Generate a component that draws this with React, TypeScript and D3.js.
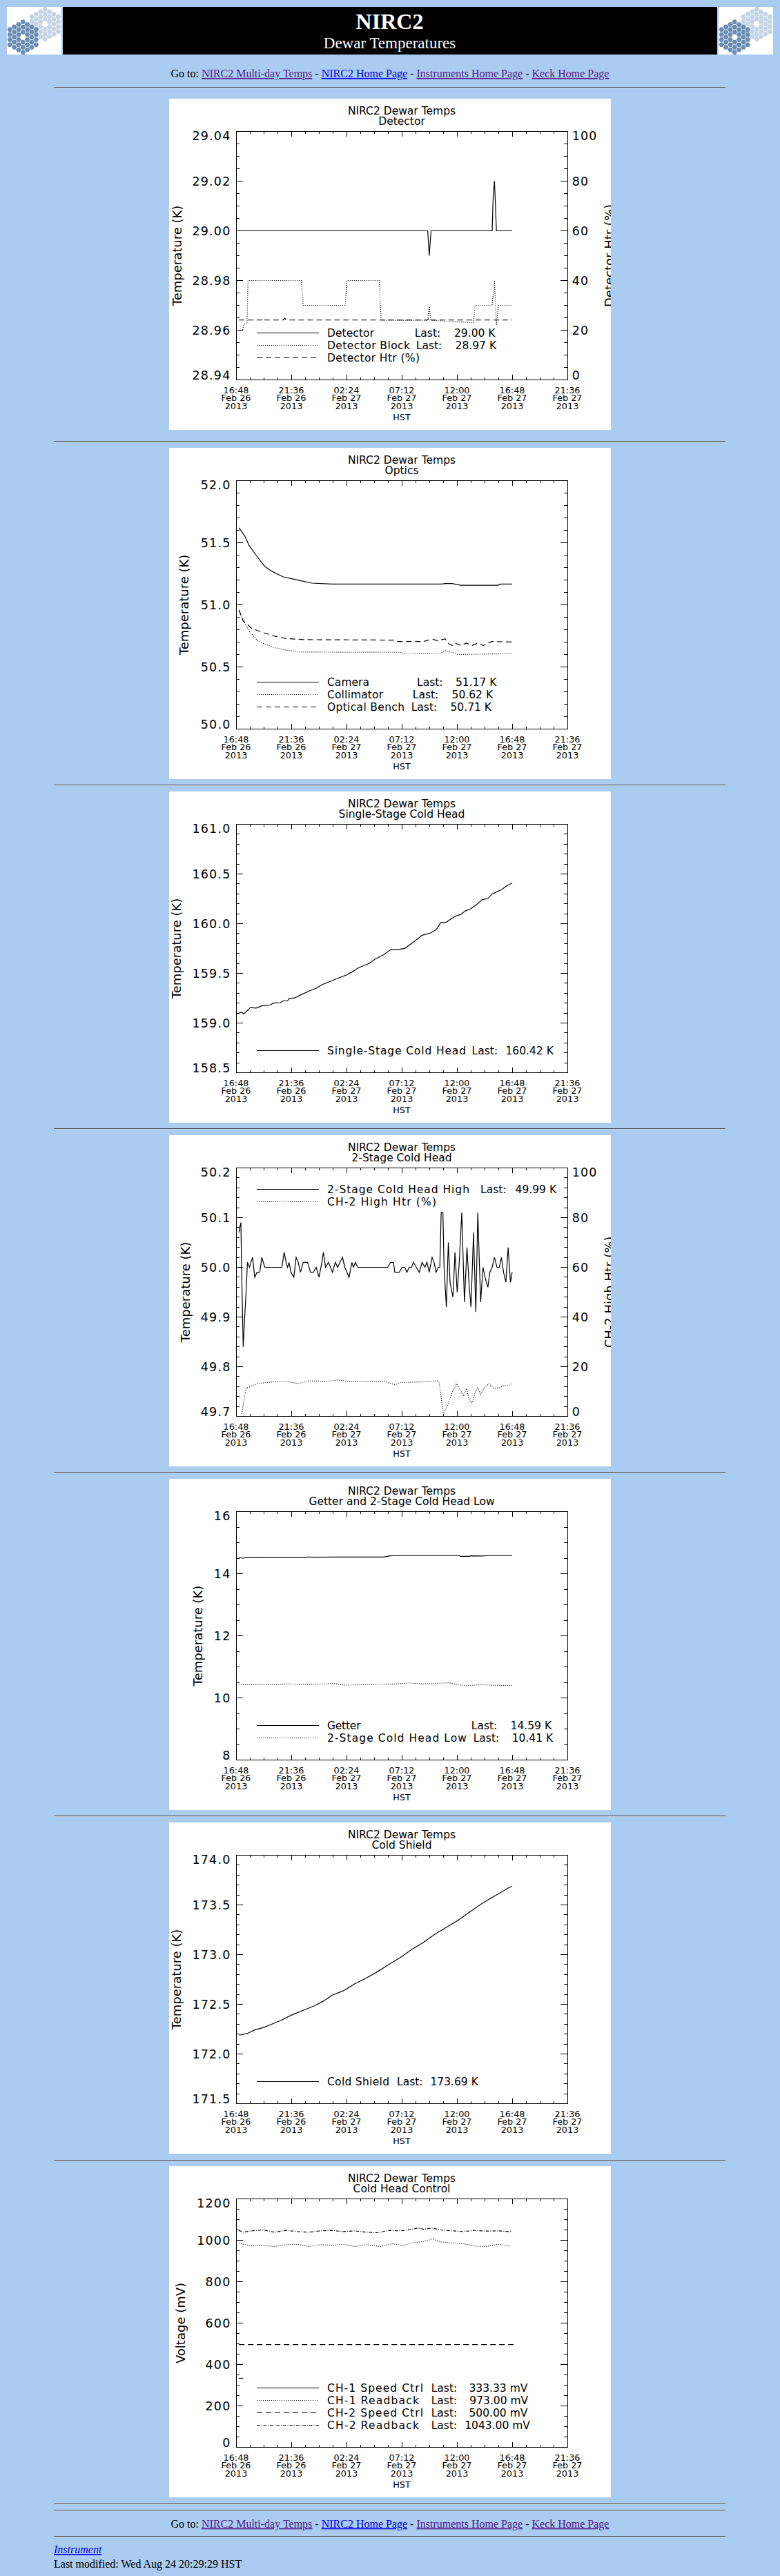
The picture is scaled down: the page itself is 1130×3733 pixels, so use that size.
import * as d3 from 'd3'

const PAGE_W = 1130
const PAGE_H = 3733
const BG = '#a9ccf0'
const PLOT_FONT = '"DejaVu Sans", "Liberation Sans", sans-serif'
const PAGE_FONT = '"Liberation Serif", "Times New Roman", serif'

// x axis: hours after 16:48 HST, Feb 26 2013
const TIME_LABELS = ['16:48', '21:36', '02:24', '07:12', '12:00', '16:48', '21:36']
const DATE_LABELS = ['Feb 26', 'Feb 26', 'Feb 27', 'Feb 27', 'Feb 27', 'Feb 27', 'Feb 27']
const YEAR_LABEL = '2013'
const TICK_HOURS = 4.8

type Pt = [number, number]

// --- Detector
const detectorTicks = [28.94, 28.96, 28.98, 29.0, 29.02, 29.04]
const htrTicks = [0, 20, 40, 60, 80, 100]
const detectorTemp: Pt[] = [
  [0.25, 29.0], [16.66, 29.0], [16.79, 28.99], [16.95, 29.0], [22.26, 29.0],
  [22.35, 29.014], [22.46, 29.02], [22.55, 29.01], [22.63, 29.0], [24.0, 29.0]
]
const detectorBlock: Pt[] = [
  [0.25, 28.96], [0.57, 28.96], [0.67, 28.9625], [0.95, 28.9625], [1.04, 28.98], [5.67, 28.98],
  [5.84, 28.97], [9.5, 28.97], [9.62, 28.98], [12.44, 28.98], [12.61, 28.964], [16.66, 28.964],
  [16.79, 28.97], [16.91, 28.964], [20.64, 28.963], [20.77, 28.97], [22.26, 28.97], [22.46, 28.98],
  [22.63, 28.962], [22.81, 28.97], [24.0, 28.97]
]
const detectorHtr: Pt[] = [
  [0.25, 24.1], [2.24, 24.1], [2.36, 24.8], [2.49, 24.1], [4.1, 24.1], [4.23, 24.8], [4.35, 24.1],
  [16.66, 24.1], [16.79, 25.0], [16.91, 24.1], [24.0, 24.1]
]

// --- Optics
const opticsTicks = [50.0, 50.5, 51.0, 51.5, 52.0]
const cameraTemp: Pt[] = [
  [0.25, 51.62], [0.75, 51.555], [1.12, 51.48], [1.74, 51.4], [2.49, 51.31], [3.11, 51.27],
  [4.1, 51.225], [4.85, 51.21], [5.84, 51.19], [6.59, 51.175], [8.33, 51.167], [11.32, 51.167],
  [17.91, 51.167], [18.16, 51.172], [18.78, 51.172], [19.52, 51.158], [22.76, 51.158],
  [23.01, 51.167], [24.0, 51.167]
]
const collimatorTemp: Pt[] = [
  [0.25, 50.95], [0.62, 50.88], [1.12, 50.79], [1.87, 50.71], [2.61, 50.68], [3.36, 50.655],
  [4.35, 50.636], [5.6, 50.62], [14.3, 50.618], [14.55, 50.607], [17.66, 50.607], [18.16, 50.63],
  [18.78, 50.618], [19.27, 50.6], [24.0, 50.607]
]
const benchTemp: Pt[] = [
  [0.25, 50.96], [0.62, 50.87], [1.37, 50.81], [2.36, 50.776], [3.36, 50.748], [4.35, 50.729],
  [5.84, 50.72], [13.8, 50.716], [14.05, 50.705], [16.29, 50.705], [17.04, 50.724], [17.53, 50.711],
  [18.16, 50.726], [18.53, 50.683], [18.78, 50.673], [19.03, 50.692], [19.52, 50.673], [20.02, 50.692],
  [20.52, 50.673], [21.01, 50.692], [21.51, 50.673], [22.01, 50.698], [22.26, 50.705], [24.0, 50.701]
]

// --- Single-stage cold head
const singleTicks = [158.5, 159.0, 159.5, 160.0, 160.5, 161.0]
const singleStage: Pt[] = [
  [0.25, 159.101], [0.5, 159.108], [0.67, 159.09], [1.24, 159.155], [1.74, 159.15], [2.24, 159.173],
  [2.98, 159.182], [3.23, 159.2], [3.85, 159.205], [4.1, 159.224], [4.48, 159.224], [4.6, 159.247],
  [5.1, 159.252], [5.6, 159.282], [6.34, 159.321], [6.96, 159.351], [7.46, 159.386], [8.21, 159.42],
  [8.95, 159.455], [9.58, 159.483], [10.07, 159.513], [10.69, 159.559], [11.56, 159.599],
  [12.06, 159.64], [12.81, 159.686], [13.43, 159.737], [13.93, 159.737], [14.67, 159.751],
  [15.54, 159.825], [16.17, 159.883], [16.91, 159.906], [17.41, 159.941], [17.78, 160.01],
  [18.28, 160.015], [18.65, 160.045], [19.15, 160.08], [19.52, 160.091], [19.9, 160.126],
  [20.39, 160.149], [20.89, 160.191], [21.39, 160.241], [21.89, 160.253], [22.26, 160.299],
  [23.13, 160.346], [23.5, 160.38], [24.0, 160.408]
]

// --- 2-stage cold head
const twoStageTicks = [49.7, 49.8, 49.9, 50.0, 50.1, 50.2]
const twoStageHigh: Pt[] = [
  [0.25, 50.07], [0.32, 50.08], [0.42, 50.09], [0.47, 50.01], [0.62, 49.84], [0.75, 49.9],
  [0.87, 49.95], [0.99, 50.01], [1.17, 50.0], [1.29, 50.01], [1.44, 50.02], [1.62, 49.98],
  [1.82, 49.99], [2.06, 49.99], [2.24, 50.02], [2.49, 50.0], [3.98, 50.0], [4.18, 50.03],
  [4.35, 50.01], [4.48, 50.0], [4.6, 50.01], [4.78, 49.99], [5.02, 49.98], [5.22, 50.02],
  [5.4, 50.01], [5.6, 49.99], [5.84, 50.01], [6.22, 50.01], [6.47, 49.99], [6.72, 49.99],
  [6.96, 50.0], [7.21, 49.98], [7.46, 50.01], [7.59, 50.03], [7.78, 50.0], [8.03, 50.01],
  [8.21, 50.0], [8.38, 49.99], [8.63, 50.01], [8.83, 50.0], [9.03, 50.01], [9.25, 50.02],
  [9.45, 50.0], [9.82, 49.98], [10.07, 50.01], [10.2, 50.0], [10.37, 50.01], [10.57, 50.0],
  [13.18, 50.0], [13.43, 50.01], [13.68, 50.01], [13.8, 49.99], [14.18, 49.99], [14.43, 50.0],
  [14.67, 50.0], [14.85, 49.99], [15.05, 50.0], [15.25, 50.0], [15.42, 50.01], [15.67, 50.0],
  [15.92, 49.99], [16.17, 50.01], [16.41, 50.0], [16.59, 50.01], [16.79, 49.99], [17.04, 50.02],
  [17.21, 50.01], [17.38, 49.99], [17.58, 50.0], [17.71, 50.0], [17.83, 50.11], [17.98, 50.11],
  [18.08, 50.0], [18.28, 49.92], [18.45, 50.05], [18.6, 49.97], [18.85, 49.94], [19.03, 50.03],
  [19.22, 49.95], [19.4, 50.01], [19.62, 50.11], [19.85, 49.93], [20.07, 50.04], [20.27, 49.96],
  [20.42, 49.92], [20.64, 50.07], [20.84, 49.91], [21.01, 50.11], [21.26, 49.93], [21.46, 50.0],
  [21.64, 49.98], [21.89, 49.96], [22.06, 49.99], [22.26, 50.0], [22.46, 50.02], [22.68, 50.0],
  [22.88, 50.0], [23.06, 50.02], [23.25, 49.99], [23.45, 49.97], [23.65, 50.04], [23.85, 49.97],
  [24.0, 49.99]
]
const ch2HighHtr: Pt[] = [
  [0.5, 1.1], [0.87, 11.3], [1.12, 11.8], [1.37, 12.3], [1.87, 13.2], [2.61, 13.6], [3.36, 13.9],
  [4.35, 14.1], [5.35, 13.2], [6.34, 14.3], [7.83, 14.1], [8.83, 14.6], [10.07, 13.9], [11.32, 13.9],
  [13.06, 13.9], [13.8, 12.7], [14.3, 13.6], [16.29, 13.9], [17.53, 14.3], [17.66, 13.6],
  [17.78, 9.5], [18.03, 0.6], [18.4, 4.8], [18.78, 9.5], [19.15, 13.2], [19.52, 10.4], [19.77, 8.1],
  [20.02, 11.3], [20.27, 6.7], [20.52, 5.3], [20.77, 9.5], [21.01, 11.8], [21.26, 8.5],
  [21.51, 11.3], [21.76, 12.3], [22.01, 13.2], [22.38, 11.3], [22.88, 11.5], [23.25, 12.3],
  [23.63, 12.3], [24.0, 13.2]
]

// --- Getter and 2-stage cold head low
const getterTicks = [8, 10, 12, 14, 16]
const getterTemp: Pt[] = [
  [0.25, 14.52], [0.62, 14.5], [0.87, 14.52], [6.1, 14.523], [6.22, 14.538], [6.84, 14.53],
  [8.83, 14.538], [12.81, 14.538], [13.31, 14.568], [13.68, 14.583], [19.4, 14.583], [19.52, 14.56],
  [20.27, 14.56], [20.39, 14.575], [21.39, 14.568], [21.89, 14.583], [24.0, 14.583]
]
const twoStageLow: Pt[] = [
  [0.25, 10.427], [3.36, 10.427], [4.35, 10.449], [6.34, 10.434], [8.58, 10.464], [9.33, 10.412],
  [11.32, 10.427], [13.8, 10.449], [15.05, 10.479], [16.29, 10.449], [18.53, 10.486], [19.27, 10.427],
  [20.02, 10.39], [21.26, 10.427], [22.51, 10.404], [24.0, 10.404]
]

// --- Cold shield
const shieldTicks = [171.5, 172.0, 172.5, 173.0, 173.5, 174.0]
const coldShield: Pt[] = [
  [0.25, 172.189], [0.99, 172.207], [1.62, 172.242], [2.36, 172.265], [3.11, 172.3], [3.85, 172.335],
  [4.85, 172.393], [5.84, 172.439], [6.84, 172.486], [7.59, 172.532], [8.33, 172.59], [9.33, 172.636],
  [10.32, 172.706], [11.32, 172.764], [12.31, 172.829], [13.31, 172.903], [14.3, 172.973],
  [15.3, 173.054], [16.29, 173.123], [17.28, 173.205], [18.28, 173.274], [19.27, 173.344],
  [20.27, 173.425], [21.26, 173.506], [22.26, 173.576], [23.13, 173.634], [23.63, 173.668],
  [24.0, 173.687]
]

// --- Cold head control
const voltTicks = [0, 200, 400, 600, 800, 1000, 1200]
const ch1Speed: Pt[] = [[0.25, 333.33], [0.62, 333.33]]
const ch1Readback: Pt[] = [
  [0.25, 986.7], [0.62, 981], [1.37, 972], [2.36, 975.6], [3.36, 970], [4.35, 978.9], [5.35, 981],
  [6.34, 970], [7.34, 978.9], [8.33, 975.6], [9.33, 981], [10.32, 970], [11.32, 978.9], [12.56, 970],
  [13.55, 983.3], [14.55, 975.6], [15.3, 986.7], [16.29, 994.4], [17.04, 1005.6], [17.78, 992.2],
  [18.78, 986.7], [19.77, 983.3], [20.77, 972], [21.76, 970], [22.76, 981], [23.75, 972]
]
const ch2Speed: Pt[] = [[0.25, 496], [24.12, 496]]
const ch2Readback: Pt[] = [
  [0.25, 1047.8], [0.62, 1038.9], [1.37, 1045.6], [2.36, 1050], [3.36, 1038.9], [4.35, 1047.8],
  [5.35, 1042.2], [6.34, 1038.9], [7.34, 1045.6], [8.33, 1047.8], [9.33, 1042.2], [10.32, 1045.6],
  [11.32, 1038.9], [12.31, 1036.7], [13.31, 1047.8], [14.3, 1045.6], [15.3, 1053.3], [15.79, 1058.9],
  [16.29, 1053.3], [17.04, 1058.9], [17.78, 1050], [18.78, 1045.6], [19.77, 1042.2], [20.77, 1047.8],
  [21.76, 1044.4], [22.76, 1045.6], [24.0, 1041.1]
]

// line styles (IDL linestyles)
const DOT = '1 2'
const DASH = '8 5'
const DASHDOT = '4.5 2 1 2'

interface Series { data: Pt[]; dash?: string; right?: boolean }
interface LegendRow { name: string; w: number; dash?: string; lastX?: number; value?: string; valueX?: number }
interface PanelCfg {
  top: number
  subtitle: string
  yTitle: string
  yTitleX: number
  yTicks: number[]
  yMinor: number
  yDigits: number
  rTicks?: number[]
  rMinor?: number
  rTitle?: string
  series: Series[]
  legendY: number
  legend: LegendRow[]
}

const panels: PanelCfg[] = [
  {
    top: 143, subtitle: 'Detector', yTitle: 'Temperature (K)', yTitleX: 17.5,
    yTicks: detectorTicks, yMinor: 4, yDigits: 2, rTicks: htrTicks, rMinor: 4, rTitle: 'Detector Htr (%)',
    series: [{ data: detectorTemp }, { data: detectorBlock, dash: DOT }, { data: detectorHtr, dash: DASH, right: true }],
    legendY: 339.5,
    legend: [
      { name: 'Detector', w: 68, lastX: 355.7, value: '29.00 K', valueX: 413 },
      { name: 'Detector Block', w: 120, dash: DOT, lastX: 357.8, value: '28.97 K', valueX: 414.6 },
      { name: 'Detector Htr (%)', w: 134, dash: DASH }
    ]
  },
  {
    top: 649, subtitle: 'Optics', yTitle: 'Temperature (K)', yTitleX: 28,
    yTicks: opticsTicks, yMinor: 5, yDigits: 1,
    series: [{ data: cameraTemp }, { data: collimatorTemp, dash: DOT }, { data: benchTemp, dash: DASH }],
    legendY: 339.5,
    legend: [
      { name: 'Camera', w: 61, lastX: 359, value: '51.17 K', valueX: 415 },
      { name: 'Collimator', w: 81, dash: DOT, lastX: 352.8, value: '50.62 K', valueX: 409.6 },
      { name: 'Optical Bench', w: 112, dash: DASH, lastX: 350.7, value: '50.71 K', valueX: 407.5 }
    ]
  },
  {
    top: 1147, subtitle: 'Single-Stage Cold Head', yTitle: 'Temperature (K)', yTitleX: 17,
    yTicks: singleTicks, yMinor: 5, yDigits: 1,
    series: [{ data: singleStage }],
    legendY: 375.5,
    legend: [{ name: 'Single-Stage Cold Head', w: 201, lastX: 438.6, value: '160.42 K', valueX: 487.5 }]
  },
  {
    top: 1645, subtitle: '2-Stage Cold Head', yTitle: 'Temperature (K)', yTitleX: 29.5,
    yTicks: twoStageTicks, yMinor: 5, yDigits: 1, rTicks: htrTicks, rMinor: 5, rTitle: 'CH-2 High Htr (%)',
    series: [{ data: twoStageHigh }, { data: ch2HighHtr, dash: DOT, right: true }],
    legendY: 78.5,
    legend: [
      { name: '2-Stage Cold Head High', w: 206, lastX: 451, value: '49.99 K', valueX: 501.6 },
      { name: 'CH-2 High Htr (%)', w: 158, dash: DOT }
    ]
  },
  {
    top: 2143, subtitle: 'Getter and 2-Stage Cold Head Low', yTitle: 'Temperature (K)', yTitleX: 47.5,
    yTicks: getterTicks, yMinor: 4, yDigits: 0,
    series: [{ data: getterTemp }, { data: twoStageLow, dash: DOT }],
    legendY: 357.5,
    legend: [
      { name: 'Getter', w: 48.5, lastX: 437.8, value: '14.59 K', valueX: 494.6 },
      { name: '2-Stage Cold Head Low', w: 202, dash: DOT, lastX: 440.7, value: '10.41 K', valueX: 496.7 }
    ]
  },
  {
    top: 2641, subtitle: 'Cold Shield', yTitle: 'Temperature (K)', yTitleX: 17,
    yTicks: shieldTicks, yMinor: 5, yDigits: 1,
    series: [{ data: coldShield }],
    legendY: 375.5,
    legend: [{ name: 'Cold Shield', w: 90, lastX: 330, value: '173.69 K', valueX: 378.5 }]
  },
  {
    top: 3139, subtitle: 'Cold Head Control', yTitle: 'Voltage (mV)', yTitleX: 22.5,
    yTicks: voltTicks, yMinor: 4, yDigits: 0,
    series: [
      { data: ch1Speed }, { data: ch1Readback, dash: DOT },
      { data: ch2Speed, dash: DASH }, { data: ch2Readback, dash: DASHDOT }
    ],
    legendY: 321.5,
    legend: [
      { name: 'CH-1 Speed Ctrl', w: 139, lastX: 379.7, value: '333.33 mV', valueX: 434.5 },
      { name: 'CH-1 Readback', w: 133, dash: DOT, lastX: 379.7, value: '973.00 mV', valueX: 435.3 },
      { name: 'CH-2 Speed Ctrl', w: 139, dash: DASH, lastX: 379.7, value: '500.00 mV', valueX: 434.5 },
      { name: 'CH-2 Readback', w: 133, dash: DASHDOT, lastX: 379.7, value: '1043.00 mV', valueX: 428.2 }
    ]
  }
]

const HR_Y = [126, 639.5, 1137, 1635.5, 2133.5, 2631.5, 3130, 3627.5, 3637.5, 3675.5]
const GOTO_LINKS = [
  { text: 'NIRC2 Multi-day Temps', visited: true },
  { text: 'NIRC2 Home Page', visited: false },
  { text: 'Instruments Home Page', visited: true },
  { text: 'Keck Home Page', visited: true }
]

// panel geometry (IDL 640x480 gif)
const PW = 640
const PH = 480
const PL = 97
const PR = 577
const PT = 47.5
const PB = 407.5
const PX = 245

function minorValues(ticks: number[], n: number) {
  const out: number[] = []
  for (let i = 0; i < ticks.length - 1; i++) {
    for (let k = 1; k < n; k++) out.push(ticks[i] + ((ticks[i + 1] - ticks[i]) * k) / n)
  }
  return out
}

function labelY(i: number, n: number, y: number) {
  if (i === 0) return PB - 6.5
  if (i === n - 1) return PT + 6.5
  return y
}

function Panel({ cfg, idx }: { cfg: PanelCfg; idx: number }) {
  const x = d3.scaleLinear().domain([0, TICK_HOURS * 6]).range([PL, PR])
  const y = d3.scaleLinear().domain([cfg.yTicks[0], cfg.yTicks[cfg.yTicks.length - 1]]).range([PB, PT])
  const yr = cfg.rTicks
    ? d3.scaleLinear().domain([cfg.rTicks[0], cfg.rTicks[cfg.rTicks.length - 1]]).range([PB, PT])
    : null
  const fmt = d3.format(`.${cfg.yDigits}f`)

  const xMajor = d3.range(0, 7).map(i => i * TICK_HOURS)
  const xMinor = d3.range(0, 24).filter(i => i % 4 !== 0).map(i => i * 1.2)
  const yMinor = minorValues(cfg.yTicks, cfg.yMinor)
  const rMinor = cfg.rTicks ? minorValues(cfg.rTicks, cfg.rMinor || 4) : []

  const clipId = `pclip${idx}`
  const tickStroke = { stroke: '#000', strokeWidth: 1, shapeRendering: 'crispEdges' as const }

  return (
    <g transform={`translate(${PX},${cfg.top})`} fontFamily={PLOT_FONT} fill="#000">
      <defs>
        <clipPath id={clipId}><rect width={PW} height={PH} /></clipPath>
      </defs>
      <rect width={PW} height={PH} fill="#fff" />
      <g clipPath={`url(#${clipId})`}>
        <text x={337} y={17.5} fontSize={15.5} textAnchor="middle" dominantBaseline="central">NIRC2 Dewar Temps</text>
        <text x={337} y={32.5} fontSize={15.5} textAnchor="middle" dominantBaseline="central">{cfg.subtitle}</text>

        <rect x={PL} y={PT} width={PR - PL} height={PB - PT} fill="none" {...tickStroke} />

        {/* x ticks, bottom and top */}
        {xMajor.map(h => (
          <g key={`xm${h}`}>
            <line x1={x(h)} x2={x(h)} y1={PB} y2={PB - 7.2} {...tickStroke} />
            <line x1={x(h)} x2={x(h)} y1={PT} y2={PT + 7.2} {...tickStroke} />
          </g>
        ))}
        {xMinor.map(h => (
          <g key={`xn${h}`}>
            <line x1={x(h)} x2={x(h)} y1={PB} y2={PB - 3.6} {...tickStroke} />
            <line x1={x(h)} x2={x(h)} y1={PT} y2={PT + 3.6} {...tickStroke} />
          </g>
        ))}

        {/* left y ticks (mirrored right when there is no second axis) */}
        {cfg.yTicks.map(v => (
          <g key={`ym${v}`}>
            <line x1={PL} x2={PL + 9.6} y1={y(v)} y2={y(v)} {...tickStroke} />
            {!yr && <line x1={PR} x2={PR - 9.6} y1={y(v)} y2={y(v)} {...tickStroke} />}
          </g>
        ))}
        {yMinor.map(v => (
          <g key={`yn${v}`}>
            <line x1={PL} x2={PL + 4.8} y1={y(v)} y2={y(v)} {...tickStroke} />
            {!yr && <line x1={PR} x2={PR - 4.8} y1={y(v)} y2={y(v)} {...tickStroke} />}
          </g>
        ))}
        {yr && cfg.rTicks!.map(v => (
          <line key={`rm${v}`} x1={PR} x2={PR - 9.6} y1={yr(v)} y2={yr(v)} {...tickStroke} />
        ))}
        {yr && rMinor.map(v => (
          <line key={`rn${v}`} x1={PR} x2={PR - 4.8} y1={yr(v)} y2={yr(v)} {...tickStroke} />
        ))}

        {/* tick labels */}
        {cfg.yTicks.map((v, i) => (
          <text key={`yl${v}`} x={PL - 7.5} y={labelY(i, cfg.yTicks.length, y(v))} fontSize={17.5}
            letterSpacing={1.2} textAnchor="end" dominantBaseline="central">{fmt(v)}</text>
        ))}
        {yr && cfg.rTicks!.map((v, i) => (
          <text key={`rl${v}`} x={PR + 6.7} y={labelY(i, cfg.rTicks!.length, yr(v))} fontSize={17.5}
            letterSpacing={1.2} dominantBaseline="central">{v}</text>
        ))}
        {xMajor.map((h, i) => (
          <g key={`xl${i}`} fontSize={12.8} textAnchor="middle">
            <text x={x(h)} y={422} dominantBaseline="central">{TIME_LABELS[i]}</text>
            <text x={x(h)} y={433.6} dominantBaseline="central">{DATE_LABELS[i]}</text>
            <text x={x(h)} y={445.2} dominantBaseline="central">{YEAR_LABEL}</text>
          </g>
        ))}
        <text x={337} y={461} fontSize={12.8} textAnchor="middle" dominantBaseline="central">HST</text>

        {/* axis titles; the right one is cut by the image edge as in the original gif */}
        <text transform={`translate(${cfg.yTitleX},227.5) rotate(-90)`} fontSize={18} textAnchor="middle">{cfg.yTitle}</text>
        {cfg.rTitle && (
          <text transform="translate(644,227.5) rotate(-90)" fontSize={18} textAnchor="middle">{cfg.rTitle}</text>
        )}

        {/* data */}
        {cfg.series.map((s, i) => {
          const ys = s.right && yr ? yr : y
          const path = d3.line<Pt>().x(d => x(d[0])).y(d => ys(d[1]))(s.data)
          return (
            <path key={`s${i}`} d={path || ''} fill="none" stroke="#000" strokeWidth={1.2}
              strokeDasharray={s.dash} />
          )
        })}

        {/* legend */}
        {cfg.legend.map((r, i) => {
          const ly = cfg.legendY + i * 18
          return (
            <g key={`lg${i}`} fontSize={15.5}>
              <line x1={127} x2={217} y1={ly} y2={ly} stroke="#000" strokeWidth={1.2} strokeDasharray={r.dash} />
              <text x={229} y={ly} dominantBaseline="central" textLength={r.w} lengthAdjust="spacing">{r.name}</text>
              {r.lastX !== undefined && <text x={r.lastX} y={ly} dominantBaseline="central">Last:</text>}
              {r.value && <text x={r.valueX} y={ly} dominantBaseline="central">{r.value}</text>}
            </g>
          )
        })}
      </g>
    </g>
  )
}

function Logo({ x0, y0 }: { x0: number; y0: number }) {
  const cells: { q: number; r: number }[] = []
  for (let q = -3; q <= 3; q++) {
    for (let r = -3; r <= 3; r++) {
      if (Math.abs(q + r) <= 3 && !(q === 0 && r === 0)) cells.push({ q, r })
    }
  }
  const hex = d3.range(6).map(k => {
    const a = (Math.PI / 3) * k
    return `${(3.8 * Math.cos(a)).toFixed(2)},${(3.8 * Math.sin(a)).toFixed(2)}`
  }).join(' ')
  const cluster = (cx: number, cy: number, sx: number, sy: number, fill: string) =>
    cells.map(({ q, r }) => (
      <polygon key={`${fill}${q}_${r}`} points={hex} fill={fill}
        transform={`translate(${cx + q * sx},${cy + (r + q / 2) * sy})`} />
    ))
  const id = `logo${x0}`
  return (
    <g transform={`translate(${x0},${y0})`}>
      <defs><clipPath id={id}><rect width={79} height={69} /></clipPath></defs>
      <rect width={79} height={69} fill="#fff" />
      <g clipPath={`url(#${id})`}>
        {cluster(55.2, 25, 6.39, 7.22, '#c4d4e4')}
        {cluster(23.3, 43.8, 6.33, 7.33, '#6a8db4')}
      </g>
    </g>
  )
}

function GoTo({ y }: { y: number }) {
  return (
    <text x={565} y={y} fontSize={16} fontFamily={PAGE_FONT} textAnchor="middle" fill="#000">
      <tspan>Go to: </tspan>
      {GOTO_LINKS.map((l, i) => (
        <tspan key={l.text}>
          <tspan fill={l.visited ? '#551a8b' : '#0000ee'} style={{ textDecoration: 'underline' }}>{l.text}</tspan>
          {i < GOTO_LINKS.length - 1 && <tspan> - </tspan>}
        </tspan>
      ))}
    </text>
  )
}

export default function App() {
  return (
    <div style={{ position: 'absolute', left: 0, top: 0, width: PAGE_W, height: PAGE_H, background: BG }}>
      <svg width={PAGE_W} height={PAGE_H} viewBox={`0 0 ${PAGE_W} ${PAGE_H}`} style={{ display: 'block' }}>
        <rect width={PAGE_W} height={PAGE_H} fill={BG} />

        {/* header */}
        <Logo x0={10} y0={10} />
        <rect x={91} y={10} width={948} height={69} fill="#000" />
        <Logo x0={1041} y0={10} />
        <text x={564.5} y={41.7} fontFamily={PAGE_FONT} fontWeight="bold" fontSize={32} fill="#fff" textAnchor="middle">NIRC2</text>
        <text x={564.5} y={70.3} fontFamily={PAGE_FONT} fontSize={23} fill="#fff" textAnchor="middle">Dewar Temperatures</text>
        <GoTo y={112} />

        {HR_Y.map(h => (
          <g key={`hr${h}`} shapeRendering="crispEdges">
            <rect x={78} y={h - 0.5} width={973} height={1} fill="#4b5058" />
            <rect x={78} y={h + 0.5} width={973} height={1} fill="#c9d3de" />
          </g>
        ))}

        {panels.map((p, i) => <Panel key={p.subtitle} cfg={p} idx={i} />)}

        {/* footer */}
        <GoTo y={3662.7} />
        <text x={78} y={3700} fontFamily={PAGE_FONT} fontSize={16} fontStyle="italic" fill="#0000ee"
          style={{ textDecoration: 'underline' }}>Instrument</text>
        <text x={78} y={3720.7} fontFamily={PAGE_FONT} fontSize={16} fill="#000">Last modified: Wed Aug 24 20:29:29 HST</text>
      </svg>
    </div>
  )
}
